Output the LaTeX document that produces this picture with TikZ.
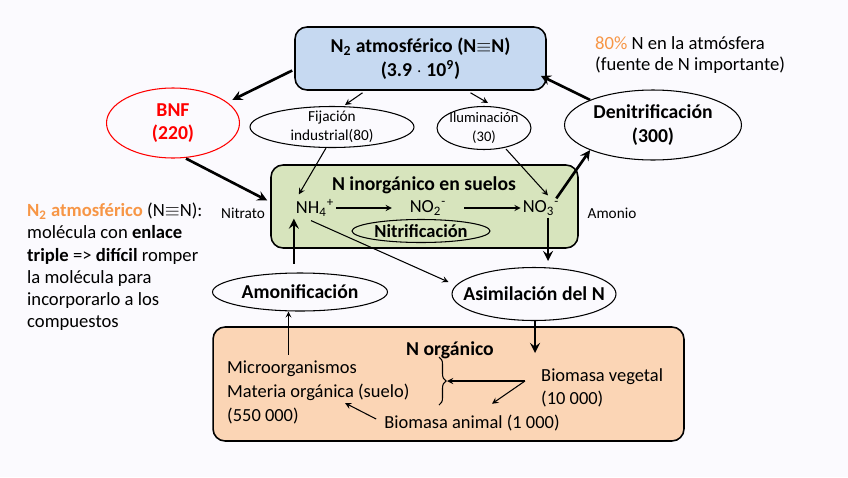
\documentclass[tikz,border=0pt]{standalone}
\usepackage{fontspec}
\setmainfont{Carlito}
\usetikzlibrary{shapes.geometric, arrows, positioning, calc, decorations.pathreplacing}
\definecolor{atmblue}{RGB}{198,217,241}
\definecolor{soilgreen}{RGB}{215,228,189}
\definecolor{orgorange}{RGB}{251,213,181}
\definecolor{hiorange}{RGB}{247,150,70}
\definecolor{bgwhite}{RGB}{251,250,254}

\begin{document}
\begin{tikzpicture}[x=0.02cm, y=-0.02cm]

    % --- Estilos ---
    \tikzset{
        pool/.style={rectangle, rounded corners=0.24cm, draw=black, line width=0.9pt, align=center},
        flux/.style={ellipse, draw=black, line width=0.6pt, align=center, inner sep=-4pt},
        bigtxt/.style={font=\fontsize{11.2}{13.5}\selectfont\bfseries, align=center},
        midtxt/.style={font=\fontsize{10.5}{13}\selectfont, align=left},
        smalltxt/.style={font=\fontsize{8.7}{11}\selectfont, align=center},
        thinarrow/.style={->, >=stealth, line width=0.6pt},
        thickarrow/.style={->, >=stealth, line width=1.5pt}
    }

    % --- Fondo ---
    \fill[bgwhite] (0,0) rectangle (848,477);
    \useasboundingbox (0,0) rectangle (848,477);

    % --- Reservorios ---
    \node (atm) [pool, fill=atmblue, minimum width=5.02cm, minimum height=1.26cm, bigtxt] at (420.5,58.5)
        {N\textsubscript{2} atmosférico (N$\equiv$N)\\(3.9 $\cdot$ 10\textsuperscript{9})};
    \node (soil) [pool, fill=soilgreen, minimum width=6.14cm, minimum height=1.66cm] at (424.5,206.5) {};
    \node (org) [pool, fill=orgorange, minimum width=9.42cm, minimum height=2.28cm] at (448.5,384) {};

    % --- Procesos ---
    \node (bnf) [flux, draw=red, text=red, bigtxt, minimum width=2.66cm, minimum height=1.40cm] at (173,123) {BNF\\(220)};
    \node (fij) [flux, smalltxt, minimum width=3.28cm, minimum height=0.82cm] at (332,127) {Fijación\\industrial(80)};
    \node (ilum) [flux, smalltxt, font=\fontsize{8.3}{11}\selectfont, minimum width=1.88cm, minimum height=0.86cm] at (484,128) {Iluminación\\(30)};
    \node (denit) [flux, bigtxt, minimum width=3.54cm, minimum height=1.40cm] at (653,125) {Denitrificación\\(300)};
    \node (nitri) [flux, bigtxt, font=\fontsize{10.5}{13}\selectfont\bfseries, minimum width=2.76cm, minimum height=0.46cm] at (421,231) {Nitrificación};
    \node (amon) [flux, bigtxt, minimum width=3.5cm, minimum height=0.76cm] at (300,292) {Amonificación};
    \node (asim) [flux, bigtxt, inner xsep=-10pt, minimum width=3.28cm, minimum height=1.06cm] at (534,294) {Asimilación del N};

    % --- N inorganico ---
    \node (soiltitle) [bigtxt] at (424,185) {N inorgánico en suelos};
    \node (nh4) [midtxt, inner sep=1pt] at (315,208) {NH\textsubscript{4}\textsuperscript{+}};
    \node (no2) [midtxt, inner sep=1pt] at (428,208) {NO\textsubscript{2}\textsuperscript{-}};
    \node (no3) [midtxt, inner sep=1pt] at (541,208) {NO\textsubscript{3}\textsuperscript{-}};
    \node (nitrato) [smalltxt] at (243,213) {Nitrato};
    \node (amonio) [smalltxt] at (612,213) {Amonio};

    % --- N organico ---
    \node (orgtitle) [bigtxt] at (450,350) {N orgánico};
    \node (micro) [midtxt, anchor=west] at (221,369) {Microorganismos};
    \node (materia) [midtxt, anchor=west] at (221,392) {Materia orgánica (suelo)};
    \node (n550) [midtxt, anchor=west] at (221,416) {(550 000)};
    \node (veg) [midtxt, anchor=north west, font=\fontsize{10.5}{13.2}\selectfont] at (535,362) {Biomasa vegetal\\(10 000)};
    \node (animal) [midtxt] at (472,423) {Biomasa animal (1 000)};

    % --- Notas ---
    \node (note) [midtxt, anchor=north west, font=\fontsize{10.6}{12.6}\selectfont] at (21,197)
        {{\color{hiorange}\bfseries N\textsubscript{2} atmosférico} (N$\equiv$N):\\
         molécula con \textbf{enlace}\\
         \textbf{triple} => \textbf{difícil} romper\\
         la molécula para\\
         incorporarlo a los\\
         compuestos};
    \node (info) [midtxt, anchor=north west, font=\fontsize{10.6}{12}\selectfont] at (589,30)
        {{\color{hiorange}80\%} N en la atmósfera\\(fuente de N importante)};

    % --- Conexiones ---
    \draw [thickarrow] ($(atm.west)+(-2,12)$) -- ($(bnf.north east)+(12,2)$);
    \draw [thinarrow] ($(atm.south)+(-58,2)$) -- ($(fij.north)+(13,-1)$);
    \draw [thinarrow] ($(atm.south)+(50,2)$) -- ($(ilum.north)+(4,-3)$);
    \draw [thickarrow] (denit.north west) -- ($(atm.south east)+(-6,-15)$);
    \draw [thickarrow] ($(bnf.south)+(13,0)$) -- ($(soil.west)+(-3,-6)$);
    \draw [thinarrow] ($(fij.south)+(-6,0)$) -- ($(nh4.north west)+(5,-3)$);
    \draw [thinarrow] ($(ilum.south)+(22,-1)$) -- ($(no3.north)+(7,-3)$);
    \draw [thickarrow] ($(no3.north east)+(-5,0)$) -- (denit.south west);
    \draw [thinarrow, shorten >=9pt] (nh4.east) -- (no2.west);
    \draw [thinarrow, shorten <=9pt] (no2.east) -- (no3.west);
    \draw [thickarrow, shorten <=5pt] (amon.north -| nh4.south west) -- (nh4.south west);
    \draw [thinarrow] ($(nh4.south)+(-4,2)$) -- ($(asim.west)+(-3,-12)$);
    \draw [thickarrow] ($(no3.south)+(7,0)$) -- ($(asim.north)+(14,-6)$);
    \draw [thickarrow] (asim.south -| veg.north west) -- ($(veg.north west)+(0,-9)$);
    \draw [thinarrow, line width=0.5pt] ($(micro.north)+(-3.5,0)$) -- ($(micro.north |- amon.south)+(-3.5,0)$);

    % --- Cadena trofica ---
    \draw [decorate, decoration={brace, amplitude=4pt}, line width=0.6pt] (439,357) -- (439,405);
    \coordinate (bracetip) at (447,381);
    \coordinate (vegfork) at (525,381);
    \coordinate (matend) at (345,403);
    \draw [thinarrow] (vegfork) -- (bracetip);
    \draw [thinarrow] (vegfork) -- ($(animal.north)+(20,-5)$);
    \draw [thinarrow] ($(animal.west)+(-2,-4)$) -- (matend);

\end{tikzpicture}
\end{document}
